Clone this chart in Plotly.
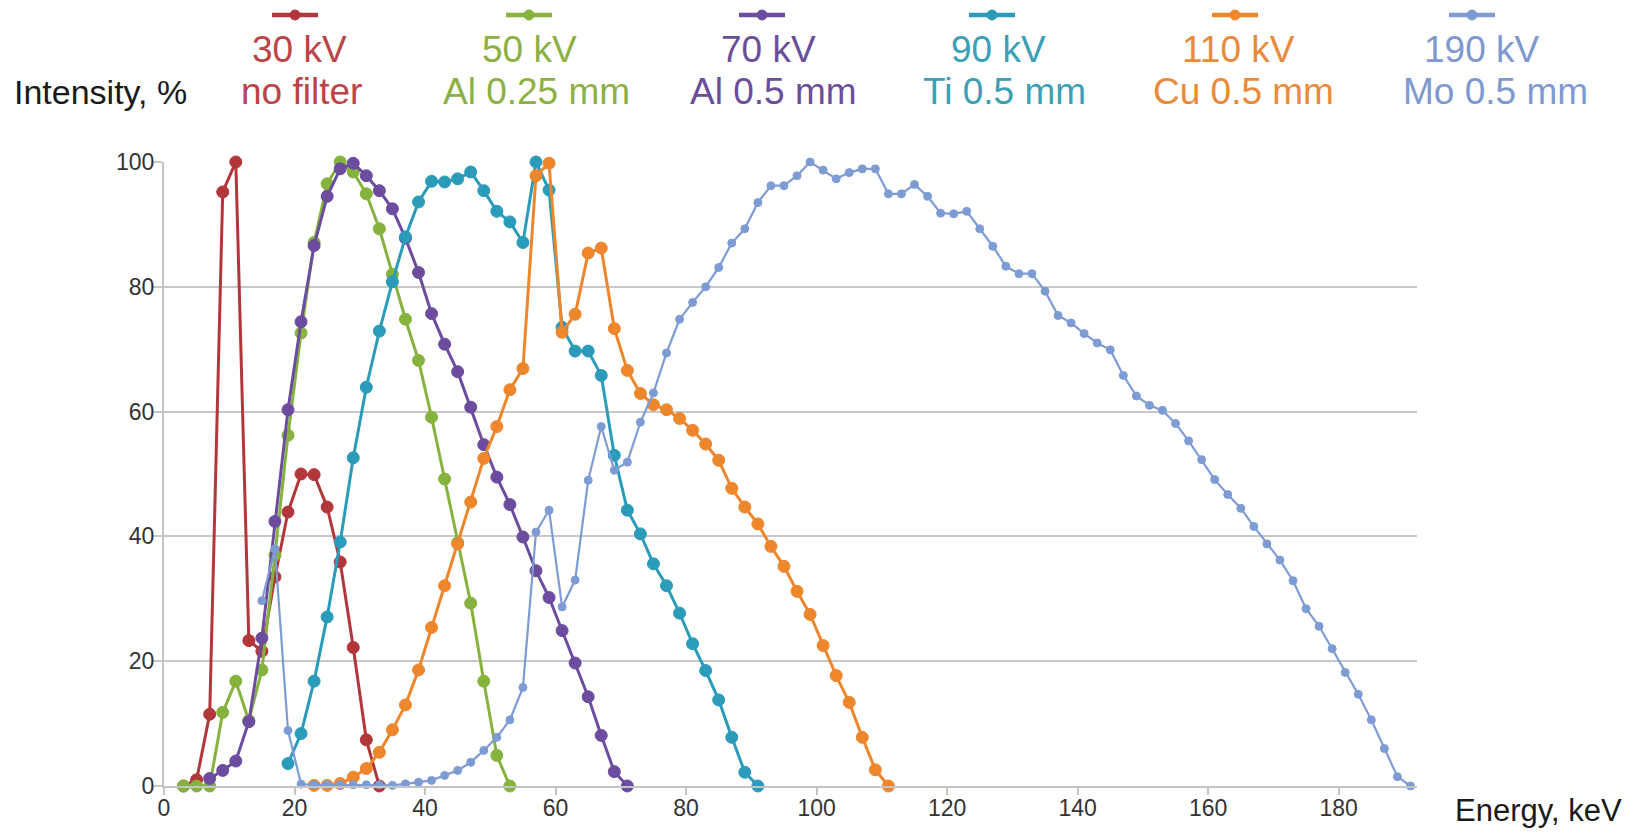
import plotly.graph_objects as go

# ---------------- data ----------------
red_x = [3, 5, 7, 9, 11, 13, 15, 17, 19, 21, 23, 25, 27, 29, 31, 33]
red_y = [0, 1.0, 11.5, 95.2, 100, 23.3, 21.6, 33.5, 43.9, 50.0, 49.9, 44.7, 35.9, 22.2, 7.4, 0]

green_x = [3, 5, 7, 9, 11, 13, 15, 17, 19, 21, 23, 25, 27, 29, 31, 33, 35, 37, 39, 41, 43, 45, 47, 49, 51, 53]
green_y = [0, 0, 0, 11.8, 16.8, 10.5, 18.6, 37.0, 56.2, 72.6, 87.1, 96.5, 100, 98.4, 94.9, 89.3, 82.0,
           74.8, 68.2, 59.1, 49.2, 39.0, 29.3, 16.8, 4.9, 0]

purple_x = [7, 9, 11, 13, 15, 17, 19, 21, 23, 25, 27, 29, 31, 33, 35, 37, 39, 41, 43, 45, 47, 49, 51,
            53, 55, 57, 59, 61, 63, 65, 67, 69, 71]
purple_y = [1.2, 2.5, 4.0, 10.3, 23.7, 42.4, 60.3, 74.4, 86.6, 94.5, 98.9, 99.8, 97.8, 95.4, 92.5, 87.8,
            82.3, 75.7, 70.8, 66.4, 60.7, 54.7, 49.5, 45.1, 39.9, 34.5, 30.2, 24.9, 19.7, 14.3, 8.1, 2.3, 0]

teal_x = [19, 21, 23, 25, 27, 29, 31, 33, 35, 37, 39, 41, 43, 45, 47, 49, 51, 53, 55, 57, 59, 61, 63,
          65, 67, 69, 71, 73, 75, 77, 79, 81, 83, 85, 87, 89, 91]
teal_y = [3.6, 8.4, 16.8, 27.1, 39.1, 52.6, 63.9, 72.9, 80.8, 88.0, 93.6, 96.9, 96.8, 97.3, 98.4, 95.4,
          92.1, 90.4, 87.1, 100, 95.5, 73.5, 69.7, 69.7, 65.8, 53.0, 44.2, 40.4, 35.6, 32.1, 27.7, 22.8,
          18.5, 13.8, 7.8, 2.2, 0]

orange_x = [23, 25, 27, 29, 31, 33, 35, 37, 39, 41, 43, 45, 47, 49, 51, 53, 55, 57, 59, 61, 63, 65, 67,
            69, 71, 73, 75, 77, 79, 81, 83, 85, 87, 89, 91, 93, 95, 97, 99, 101, 103, 105, 107, 109, 111]
orange_y = [0.1, 0.1, 0.4, 1.4, 2.8, 5.4, 9.0, 13.0, 18.6, 25.4, 32.1, 38.8, 45.5, 52.5, 57.6, 63.5, 66.9,
            97.8, 99.8, 72.7, 75.6, 85.4, 86.2, 73.3, 66.6, 62.9, 61.1, 60.3, 58.9, 57.0, 54.8, 52.2, 47.7,
            44.7, 42.0, 38.4, 35.2, 31.2, 27.5, 22.5, 17.7, 13.4, 7.8, 2.6, 0]

blue_x = [15, 17, 19, 21, 23, 25, 27, 29, 31, 33, 35, 37, 39, 41, 43, 45, 47, 49, 51, 53, 55, 57, 59, 61,
          63, 65, 67, 69, 71, 73, 75, 77, 79, 81, 83, 85, 87, 89, 91, 93, 95, 97, 99, 101, 103, 105, 107,
          109, 111, 113, 115, 117, 119, 121, 123, 125, 127, 129, 131, 133, 135, 137, 139, 141, 143, 145,
          147, 149, 151, 153, 155, 157, 159, 161, 163, 165, 167, 169, 171, 173, 175, 177, 179, 181, 183,
          185, 187, 189, 191]
blue_y = [29.7, 38.0, 8.9, 0.3, 0.2, 0.2, 0.2, 0.2, 0.2, 0.2, 0.1, 0.35, 0.6, 0.9, 1.7, 2.5, 3.8, 5.7,
          7.8, 10.6, 15.8, 40.7, 44.2, 28.7, 33.0, 49.0, 57.6, 50.6, 51.9, 58.3, 63.0, 69.4, 74.8, 77.5,
          80.0, 83.1, 87.0, 89.3, 93.5, 96.2, 96.2, 97.8, 100, 98.7, 97.3, 98.3, 98.9, 98.9, 94.9, 94.9,
          96.4, 94.5, 91.8, 91.7, 92.1, 89.3, 86.5, 83.3, 82.1, 82.1, 79.3, 75.4, 74.2, 72.5, 71.0, 69.9,
          65.8, 62.5, 61.0, 60.2, 58.1, 55.3, 52.3, 49.1, 46.7, 44.5, 41.6, 38.8, 36.2, 32.9, 28.4, 25.6,
          22.0, 18.2, 14.7, 10.6, 6.0, 1.5, 0]

series_line1 = ["30 kV", "50 kV", "70 kV", "90 kV", "110 kV", "190 kV"]
series_line2 = ["no filter", "Al 0.25 mm", "Al 0.5 mm", "Ti 0.5 mm", "Cu 0.5 mm", "Mo 0.5 mm"]
x_ticks = [0, 20, 40, 60, 80, 100, 120, 140, 160, 180]
y_ticks = [0, 20, 40, 60, 80, 100]

# ---------------- styles ----------------
line_colors = ["#B3363A", "#86B23E", "#6C4C9E", "#2A9CBA", "#EE862C", "#7E9CD4"]
text_colors = ["#BA4446", "#8DB045", "#6A4E9A", "#3BA0B5", "#E98A3A", "#7E99CF"]
marker_sizes = [12, 12, 12, 12, 12, 8]
line_widths = [3, 3, 3, 3, 3, 2.2]
FONT = "Liberation Sans, Arial, sans-serif"

# legend layout (page pixels)
legend_sym_cx = [295, 529, 762, 992, 1235, 1472]
legend_l1_cx = [299, 529, 768, 998, 1238, 1482]
legend_l2_cx = [301, 536, 773, 1004, 1243, 1495]

# page has an 8px body margin: figure placed at (8, 8) on the page
OFF = 8
W, H = 1626, 830
PLOT_L, PLOT_R, PLOT_T, PLOT_B = 164, 1417, 162, 786   # target page pixels of the plot area
ML, MT = PLOT_L - OFF, PLOT_T - OFF
MR, MB = W - (PLOT_R - OFF), H - (PLOT_B - OFF)
PW, PH = W - ML - MR, H - MT - MB


def px_x(px):
    return (px - OFF - ML) / PW


def px_y(py):
    return (H - MB - (py - OFF)) / PH


all_x = [red_x, green_x, purple_x, teal_x, orange_x, blue_x]
all_y = [red_y, green_y, purple_y, teal_y, orange_y, blue_y]

fig = go.Figure()
for i in range(6):
    fig.add_trace(go.Scatter(
        x=all_x[i], y=all_y[i], mode="lines+markers",
        name=series_line1[i] + " " + series_line2[i],
        line=dict(color=line_colors[i], width=line_widths[i]),
        marker=dict(color=line_colors[i], size=marker_sizes[i], symbol="circle",
                    line=dict(color=line_colors[i], width=1)),
        cliponaxis=False, showlegend=False,
    ))

shapes = []
annotations = []
for i in range(6):
    cx = legend_sym_cx[i]
    shapes.append(dict(type="line", xref="paper", yref="paper",
                       x0=px_x(cx - 23), x1=px_x(cx + 23), y0=px_y(15), y1=px_y(15),
                       line=dict(color=line_colors[i], width=4.5)))
    shapes.append(dict(type="circle", xref="paper", yref="paper",
                       x0=px_x(cx - 5), x1=px_x(cx + 5), y0=px_y(20), y1=px_y(10),
                       fillcolor=line_colors[i], line=dict(color=line_colors[i], width=1)))
    annotations.append(dict(xref="paper", yref="paper", x=px_x(legend_l1_cx[i]), y=px_y(50),
                            xanchor="center", yanchor="middle", showarrow=False,
                            text=series_line1[i],
                            font=dict(family=FONT, size=37, color=text_colors[i])))
    annotations.append(dict(xref="paper", yref="paper", x=px_x(legend_l2_cx[i]), y=px_y(92),
                            xanchor="center", yanchor="middle", showarrow=False,
                            text=series_line2[i],
                            font=dict(family=FONT, size=37, color=text_colors[i])))

annotations.append(dict(xref="paper", yref="paper", x=px_x(12), y=px_y(92),
                        xanchor="left", yanchor="middle", showarrow=False,
                        text="Intensity, %", font=dict(family=FONT, size=34, color="#1a1a1a")))
annotations.append(dict(xref="paper", yref="paper", x=px_x(1624), y=px_y(810),
                        xanchor="right", yanchor="middle", showarrow=False,
                        text="Energy, keV", font=dict(family=FONT, size=31, color="#1a1a1a")))

fig.update_layout(
    width=W, height=H,
    margin=dict(l=ML, r=MR, t=MT, b=MB, pad=0, autoexpand=False),
    paper_bgcolor="white", plot_bgcolor="white",
    shapes=shapes, annotations=annotations,
    xaxis=dict(range=[0, 192], tickvals=x_ticks, showgrid=False, zeroline=False, automargin=False,
               showline=True, linecolor="#C4C4C4", linewidth=2,
               ticks="outside", ticklen=7, tickwidth=2, tickcolor="#C4C4C4",
               ticklabelstandoff=-7,
               tickfont=dict(family=FONT, size=23, color="#333333")),
    yaxis=dict(range=[0, 100], tickvals=y_ticks, showgrid=True, gridcolor="#C8C8C8", gridwidth=2,
               zeroline=False, showline=True, linecolor="#C4C4C4", linewidth=2, automargin=False,
               ticks="outside", ticklen=9, tickwidth=2, tickcolor="#C8C8C8",
               ticklabelstandoff=-6,
               tickfont=dict(family=FONT, size=23, color="#333333")),
)

fig.write_html("out.html")
